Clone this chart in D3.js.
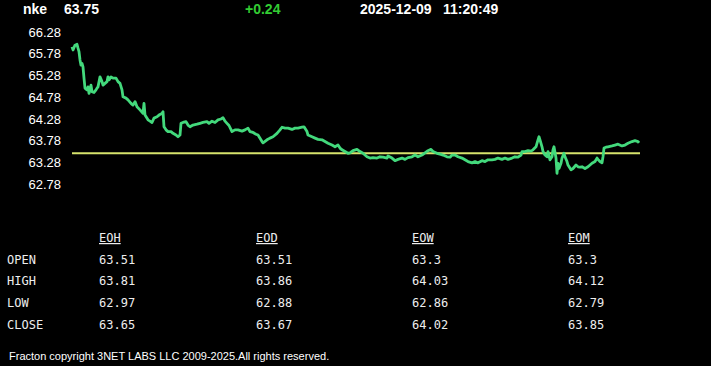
<!DOCTYPE html>
<html>
<head>
<meta charset="utf-8">
<script src="https://cdn.jsdelivr.net/npm/d3@7/dist/d3.min.js"></script>
<style>
html,body{margin:0;padding:0;background:#000;}
svg{display:block;}
</style>
</head>
<body>
<script>
// ---- data ----
const symbol = "nke";
const lastPrice = "63.75";
const change = "+0.24";
const dateStr = "2025-12-09";
const timeStr = "11:20:49";
const prevClose = 63.51;

const yTicks = [66.28, 65.78, 65.28, 64.78, 64.28, 63.78, 63.28, 62.78];

const barIndex = [0,1,3,5,6,7,8,9,10,11,12,13,15,16,17,19,20,22,24,25,26,28,30,31,33,35,36,37,39,41,44,46,48,50,51,54,56,59,61,63,65,68,71,72,73,76,78,80,82,85,87,90,91,92,94,96,99,101,104,106,108,109,111,114,116,118,121,125,128,131,135,137,140,143,146,149,151,153,155,157,160,163,166,170,173,176,178,181,184,186,190,191,195,198,201,205,208,210,213,216,220,223,226,230,232,235,236,240,243,246,250,253,256,260,263,266,268,270,273,276,278,281,285,288,291,295,298,301,305,308,311,315,316,320,323,326,330,333,336,340,343,346,350,353,356,359,361,365,368,371,375,378,380,383,386,390,393,396,400,403,406,410,413,416,420,423,426,430,433,436,440,443,446,449,450,453,456,459,461,464,466,467,468,470,471,473,475,476,478,480,481,482,484,485,486,487,489,490,492,493,495,496,499,501,504,506,508,510,513,516,518,520,523,525,526,528,530,531,532,534,536,540,543,546,550,553,556,560,563,566,567];

const prices = [65.96,65.89,66.00,66.02,65.93,65.85,65.66,65.54,65.58,65.50,65.24,65.01,64.97,65.04,64.89,65.08,64.93,64.91,64.97,65.01,65.04,65.27,65.16,65.08,65.12,65.16,65.27,65.20,65.27,65.24,65.24,65.16,65.12,64.97,64.81,64.78,64.74,64.66,64.62,64.70,64.58,64.51,64.43,64.66,64.39,64.28,64.25,64.22,64.32,64.35,64.39,64.43,64.47,64.12,64.05,64.01,64.01,63.97,63.93,63.89,63.93,64.20,64.22,64.24,64.16,64.12,64.16,64.18,64.20,64.22,64.24,64.20,64.25,64.22,64.28,64.30,64.33,64.25,64.20,64.15,64.01,64.05,64.05,64.02,64.05,64.09,64.01,63.99,63.95,63.93,63.78,63.75,63.82,63.86,63.89,63.97,64.05,64.11,64.09,64.09,64.06,64.09,64.09,64.11,64.12,64.01,63.93,63.89,63.86,63.83,63.82,63.78,63.74,63.70,63.66,63.70,63.63,63.59,63.55,63.51,63.52,63.57,63.60,63.55,63.51,63.43,63.40,63.41,63.40,63.43,63.42,63.40,63.45,63.40,63.34,63.37,63.40,63.37,63.41,63.43,63.47,63.43,63.47,63.52,63.57,63.60,63.55,63.51,63.49,63.47,63.43,63.42,63.47,63.47,63.43,63.40,63.36,63.32,63.29,63.32,63.29,63.34,63.32,63.36,63.36,63.37,63.40,63.37,63.40,63.37,63.40,63.43,63.42,63.47,63.55,63.55,63.57,63.56,63.59,63.66,63.82,63.89,63.82,63.66,63.55,63.47,63.43,63.55,63.36,63.43,63.59,63.66,63.40,63.05,63.28,63.16,63.28,63.40,63.51,63.43,63.32,63.24,63.13,63.16,63.24,63.20,63.19,63.20,63.16,63.20,63.24,63.28,63.32,63.40,63.37,63.32,63.29,63.43,63.63,63.65,63.66,63.68,63.70,63.72,63.68,63.70,63.74,63.78,63.80,63.78,63.75];

const periods = ["EOH", "EOD", "EOW", "EOM"];
const rowLabels = ["OPEN", "HIGH", "LOW", "CLOSE"];
const openVals  = ["63.51", "63.51", "63.3", "63.3"];
const highVals  = ["63.81", "63.86", "64.03", "64.12"];
const lowVals   = ["62.97", "62.88", "62.86", "62.79"];
const closeVals = ["63.65", "63.67", "64.02", "63.85"];

const footer = "Fracton copyright 3NET LABS LLC 2009-2025.All rights reserved.";

// ---- drawing ----
const W = 711, H = 366;
const svg = d3.select("body").append("svg").attr("width", W).attr("height", H)
  .style("background", "#000");

// header
const hdr = svg.append("g").attr("font-family", "Arial, 'Liberation Sans', sans-serif")
  .attr("font-size", 14).attr("font-weight", "bold");
hdr.append("text").attr("x", 23).attr("y", 14).attr("fill", "#fff").text(symbol);
hdr.append("text").attr("x", 64).attr("y", 14).attr("fill", "#fff").text(lastPrice);
hdr.append("text").attr("x", 245).attr("y", 14).attr("fill", "#33cc33").text(change);
hdr.append("text").attr("x", 360).attr("y", 14).attr("fill", "#fff").text(dateStr);
hdr.append("text").attr("x", 443).attr("y", 14).attr("fill", "#fff").text(timeStr);

// scales
const x = d3.scaleLinear().domain([0, 567]).range([72, 639]);
const y = d3.scaleLinear().domain([62.78, 66.28]).range([185, 33]);

// y axis
const yAxis = d3.axisLeft(y).tickValues(yTicks).tickSize(0).tickPadding(3)
  .tickFormat(d3.format(".2f"));
const ag = svg.append("g").attr("transform", "translate(64,0)").call(yAxis);
ag.select(".domain").remove();
ag.selectAll("text").attr("fill", "#fff").attr("font-size", 13)
  .attr("font-family", "Arial, 'Liberation Sans', sans-serif").attr("dy", "0.25em");

// previous close line
svg.append("line")
  .attr("x1", x(0)).attr("x2", x(567) + 1)
  .attr("y1", y(prevClose)).attr("y2", y(prevClose))
  .attr("stroke", "#d6e36c").attr("stroke-width", 2);

// price line
const pts = barIndex.map((t, i) => [t, prices[i]]);
svg.append("path").datum(pts)
  .attr("fill", "none").attr("stroke", "#43d97c").attr("stroke-width", 2.8)
  .attr("stroke-linejoin", "round")
  .attr("d", d3.line().x(d => x(d[0])).y(d => y(d[1])));

// table
const colX = [99, 256, 412, 568];
const rowY = [264, 285, 307, 329];
const tbl = svg.append("g").attr("font-family", "'DejaVu Sans Mono', 'Liberation Mono', monospace")
  .attr("font-size", 12).attr("fill", "#eee");
tbl.selectAll("text.hd").data(periods).join("text").attr("class", "hd")
  .attr("x", (d, i) => colX[i]).attr("y", 242)
  .style("text-decoration", "underline").text(d => d);
tbl.selectAll("text.rl").data(rowLabels).join("text").attr("class", "rl")
  .attr("x", 7).attr("y", (d, i) => rowY[i]).text(d => d);
const rows = [openVals, highVals, lowVals, closeVals];
rows.forEach((vals, r) => {
  tbl.selectAll("text.v" + r).data(vals).join("text").attr("class", "v" + r)
    .attr("x", (d, i) => colX[i]).attr("y", rowY[r]).text(d => d);
});

// footer
svg.append("text").attr("x", 9).attr("y", 359.5)
  .attr("font-family", "Arial, 'Liberation Sans', sans-serif").attr("font-size", 11)
  .attr("fill", "#fff").text(footer);
</script>
</body>
</html>
